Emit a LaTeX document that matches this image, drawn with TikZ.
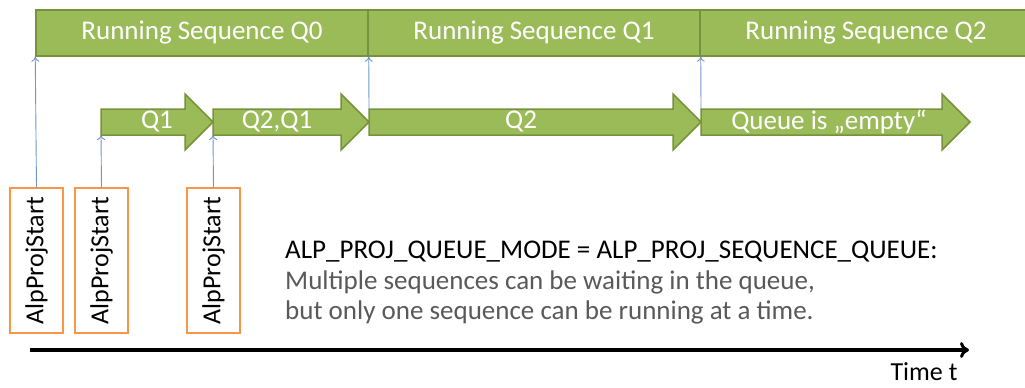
\documentclass[tikz,border=0pt]{standalone}
\usepackage{fontspec}
\setmainfont{Carlito}
\usepackage{xcolor}
\usepackage{tikz}
\usetikzlibrary{positioning,arrows.meta}

\definecolor{seqgreen}{RGB}{155,187,89}
\definecolor{seqedge}{RGB}{118,146,60}
\definecolor{startorange}{RGB}{247,150,70}
\definecolor{trigblue}{RGB}{110,150,200}
\definecolor{notegray}{RGB}{89,89,89}

\tikzset{
  runbar/.style={draw=seqedge, fill=seqgreen, line width=1.5pt, minimum height=46pt,
    minimum width=332pt, inner sep=0pt, text=white, font=\fontsize{27}{30}\selectfont},
  qarrow/.style={draw=seqedge, fill=seqgreen, line width=1.5pt},
  qlabel/.style={text=white, inner sep=0pt, font=\fontsize{27}{30}\selectfont},
  startbox/.style={draw=startorange, line width=1.5pt, fill=white, minimum width=145pt,
    minimum height=53pt, inner sep=0pt, rotate=90, font=\fontsize{26}{30}\selectfont},
  trigline/.style={draw=trigblue, line width=0.9pt, -{To[length=5pt,width=8pt]}},
  timeaxis/.style={line width=3.5pt, -{To[length=9pt,width=16pt,line width=3pt]}},
  notetext/.style={anchor=west, inner sep=0pt, align=left, font=\fontsize{27}{30}\selectfont}
}

\begin{document}
\begin{tikzpicture}[x=1pt, y=-1pt]
    \useasboundingbox (0,0) rectangle (1025,388);

    % running sequences
    \node [runbar] (run0) at (202,33) {Running Sequence Q0};
    \node [runbar] (run1) at (534,33) {Running Sequence Q1};
    \node [runbar] (run2) at (866,33) {Running Sequence Q2};

    % queue contents
    \draw [qarrow] (101,109) -- (185,109) -- (185,94) -- (213,122) -- (185,150) -- (185,135) -- (101,135) -- cycle;
    \draw [qarrow] (213,109) -- (341,109) -- (341,94) -- (369,122) -- (341,150) -- (341,135) -- (213,135) -- cycle;
    \draw [qarrow] (369,109) -- (673,109) -- (673,94) -- (701,122) -- (673,150) -- (673,135) -- (369,135) -- cycle;
    \draw [qarrow] (701,109) -- (942,109) -- (942,94) -- (970,122) -- (942,150) -- (942,135) -- (701,135) -- cycle;
    \node [qlabel] (lq1) at (157,122) {Q1};
    \node [qlabel] (lq21) at (277,122) {Q2,Q1};
    \node [qlabel] (lq2) at (521,122) {Q2};
    \node [qlabel] (lempty) at (829,122) {Queue is „empty“};

    \coordinate (Q1T) at (101,135);
    \coordinate (Q21T) at (213,135);
    \coordinate (Q2T) at (369,109);
    \coordinate (QET) at (701,109);

    % AlpProjStart calls
    \node [startbox] (s1) at (36.5,260.5) {AlpProjStart};
    \node [startbox] (s2) at (101.5,260.5) {AlpProjStart};
    \node [startbox] (s3) at (213.5,260.5) {AlpProjStart};

    \draw [trigline] (s1.east) -- (run0.south west);
    \draw [trigline] (s2.east) -- (Q1T);
    \draw [trigline] (s3.east) -- (Q21T);
    \draw [trigline] (Q2T) -- (run0.south east);
    \draw [trigline] (QET) -- (run1.south east);

    % time axis
    \coordinate (T0) at (30,350);
    \coordinate (T1) at (969,350);
    \draw [timeaxis] (T0) -- (T1);
    \node [inner sep=0pt, font=\fontsize{26}{28}\selectfont] (timet) at (924,372) {Time t};

    % note
    \node [notetext] (mode) at (285,252) {ALP\_PROJ\_QUEUE\_MODE = ALP\_PROJ\_SEQUENCE\_QUEUE:};
    \node [notetext, text=notegray] (expl) at ([yshift=-45pt]mode.west) {Multiple sequences can be waiting in the queue,\\but only one sequence can be running at a time.};
  \end{tikzpicture}
\end{document}
